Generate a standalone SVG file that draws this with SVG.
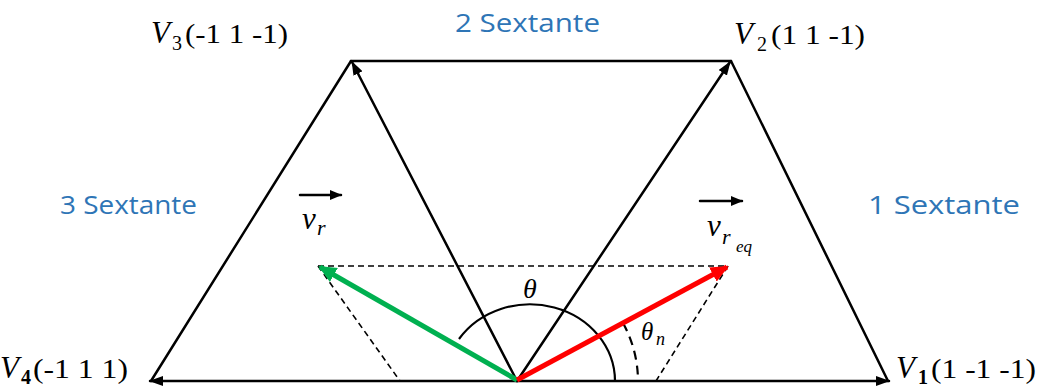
<svg xmlns="http://www.w3.org/2000/svg" width="1038" height="388" viewBox="0 0 1038 388">
<defs>
<style>
.ln{stroke:#000;stroke-width:2.5;fill:none;stroke-linecap:round}
.dash{stroke:#000;stroke-width:1.6;fill:none;stroke-dasharray:6 4}
.sext{font-family:"Open Sans","Liberation Sans",sans-serif;font-size:26px;fill:#2E75B6}
.lab{font-family:"Liberation Serif","DejaVu Serif",serif;font-size:28px;fill:#000}
.it{font-style:italic}
.v{font-style:italic;font-size:31px}
.sub{font-size:20px}
</style>
<marker id="ah" markerUnits="userSpaceOnUse" markerWidth="14" markerHeight="10" refX="13" refY="5" orient="auto"><path d="M0,0 L14,5 L0,10 z" fill="#000"/></marker>
<marker id="ahs" markerUnits="userSpaceOnUse" markerWidth="12" markerHeight="10" refX="11" refY="5" orient="auto"><path d="M0,0 L12,5 L0,10 z" fill="#000"/></marker>
<marker id="ahg" markerUnits="userSpaceOnUse" markerWidth="18" markerHeight="16" refX="16" refY="8" orient="auto"><path d="M0,0 L18,8 L0,16 z" fill="#00B050"/></marker>
<marker id="ahr" markerUnits="userSpaceOnUse" markerWidth="18" markerHeight="16" refX="16" refY="8" orient="auto"><path d="M0,0 L18,8 L0,16 z" fill="#FF0000"/></marker>
</defs>
<rect width="1038" height="388" fill="#fff"/>
<g id="connectors">
<line class="ln" x1="351" y1="61" x2="731" y2="61"/>
<line class="ln" x1="151" y1="381" x2="351" y2="61"/>
<line class="ln" x1="731" y1="61" x2="888" y2="381"/>
<line class="ln" x1="517" y1="381" x2="352" y2="62" marker-end="url(#ah)"/>
<line class="ln" x1="517" y1="381" x2="730" y2="62" marker-end="url(#ah)"/>
<line class="ln" x1="517" y1="381" x2="150" y2="381" marker-end="url(#ah)"/>
<line class="ln" x1="517" y1="381" x2="889" y2="381" marker-end="url(#ah)"/>
<line class="dash" x1="318" y1="266" x2="728" y2="266"/>
<line class="dash" x1="318" y1="266" x2="400" y2="381"/>
<line class="dash" x1="728" y1="266" x2="656" y2="381"/>
<path d="M459,339 A85,77 0 0 1 615,381" stroke="#000" stroke-width="2.2" fill="none"/>
<path d="M623,323 A121,121 0 0 1 638,381" stroke="#000" stroke-width="2.2" fill="none" stroke-dasharray="9 6"/>
<line x1="517" y1="380" x2="320" y2="267" stroke="#00B050" stroke-width="5" marker-end="url(#ahg)"/>
<line x1="517" y1="380" x2="727" y2="267" stroke="#FF0000" stroke-width="5" marker-end="url(#ahr)"/>
<line class="ln" x1="300" y1="195" x2="341" y2="195" stroke-width="2" marker-end="url(#ahs)"/>
<line class="ln" x1="700" y1="201" x2="742" y2="201" stroke-width="2" marker-end="url(#ahs)"/>
</g>
<g id="sextante2"><text class="sext" x="455" y="32" textLength="145" lengthAdjust="spacingAndGlyphs">2 Sextante</text></g>
<g id="sextante3"><text class="sext" x="60" y="214" textLength="137" lengthAdjust="spacingAndGlyphs">3 Sextante</text></g>
<g id="sextante1"><text class="sext" x="868" y="214" textLength="152" lengthAdjust="spacingAndGlyphs">1 Sextante</text></g>
<g id="v3"><text class="lab"><tspan class="v" x="151" y="43">V</tspan><tspan class="sub" x="172" y="50">3</tspan><tspan x="185" y="43" textLength="103" lengthAdjust="spacingAndGlyphs">(-1 1 -1)</tspan></text></g>
<g id="v2"><text class="lab"><tspan class="v" x="734" y="44">V</tspan><tspan class="sub" x="757" y="51">2</tspan><tspan x="771" y="44" textLength="94" lengthAdjust="spacingAndGlyphs">(1 1 -1)</tspan></text></g>
<g id="v4"><text class="lab"><tspan class="v" x="0" y="378">V</tspan><tspan class="sub" x="21" y="384" font-weight="bold">4</tspan><tspan x="33" y="378" textLength="95" lengthAdjust="spacingAndGlyphs">(-1 1 1)</tspan></text></g>
<g id="v1"><text class="lab"><tspan class="v" x="896" y="378">V</tspan><tspan class="sub" x="918" y="384" font-weight="bold">1</tspan><tspan x="931" y="378" textLength="105" lengthAdjust="spacingAndGlyphs">(1 -1 -1)</tspan></text></g>
<g id="vr"><text class="lab it"><tspan x="302" y="229" font-size="31">v</tspan><tspan x="317" y="235" font-size="22">r</tspan></text></g>
<g id="vreq"><text class="lab it"><tspan x="707" y="236" font-size="31">v</tspan><tspan x="722" y="244" font-size="22">r</tspan><tspan x="736" y="252" font-size="17">eq</tspan></text></g>
<g id="theta"><text class="lab it" x="523" y="298" font-size="25">θ</text></g>
<g id="thetan"><text class="lab it"><tspan x="641" y="340" font-size="25">θ</tspan><tspan x="656" y="345" font-size="18">n</tspan></text></g>
</svg>
